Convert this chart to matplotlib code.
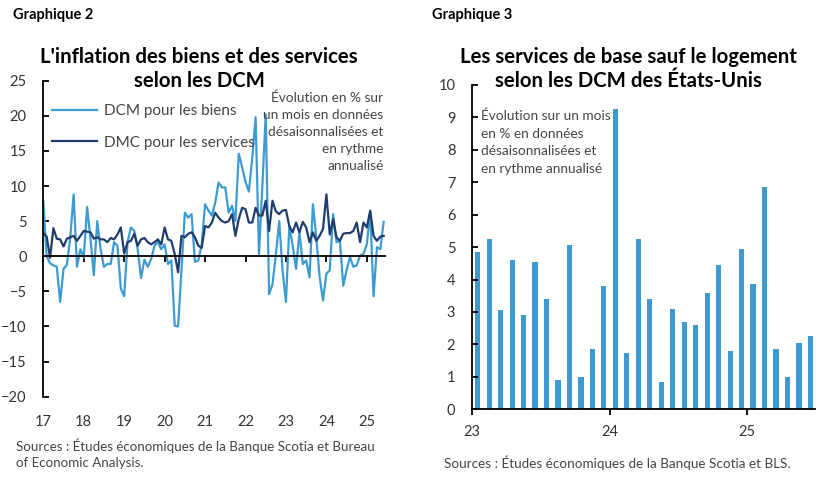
import numpy as np
import matplotlib
matplotlib.use("Agg")
import matplotlib.pyplot as plt

plt.rcParams['font.family'] = ['Lato', 'DejaVu Sans']

# --- Graphique 2 : monthly, Jan 2017 to Jun 2025 (annualized m/m %)
goods = [7.9, 0.0, -1.0, -1.3, -1.5, -6.5, -1.8, -1.2, 2.7, 8.8, -1.5, 1.0,
         -0.2, 7.0, 2.5, -2.7, 5.0, 1.0, -1.5, -1.1, -1.1, 2.0, 1.5, -4.6,
         -5.7, 2.0, 4.1, 3.6, 1.0, -3.1, -0.5, -1.5, -0.4, 1.5, 2.0, 1.0,
         1.7, -1.1, -0.6, -9.9, -10.0, -2.0, 6.2, 5.5, 6.0, -0.8, -0.6, 1.7,
         7.4, 6.5, 5.8, 7.6, 10.5, 9.8, 9.8, 6.2, 7.2, 5.0, 14.6, 12.7,
         10.6, 9.2, 14.0, 19.8, 0.3, 10.0, 20.2, -5.4, -4.0, 0.2, 5.0, -2.0,
         -6.5, 4.3, 1.5, -1.8, 3.4, -1.1, -0.6, -3.0, 7.4, 2.7, -3.0, -6.3,
         -2.5, -2.0, 6.0, 2.0, 2.2, -4.2, -2.0, -0.1, -1.5, -1.3, 0.1, 0.3,
         1.7, 6.3, -5.7, 1.3, 1.0, 4.9]
services = [3.3, 2.8, -0.2, 4.0, 2.5, 2.4, 1.4, 2.5, 2.7, 2.9, 2.2, 2.9,
            3.6, 3.5, 3.4, 2.5, 2.7, 2.4, 2.4, 2.0, 2.6, 2.4, 3.1, 4.1,
            0.4, 2.0, 2.2, 3.2, 1.5, 2.4, 2.6, 2.0, 1.7, 2.0, 2.4, 1.7,
            4.1, 2.4, 2.2, 0.3, -2.3, 2.9, 2.7, 3.2, 3.4, 2.7, 1.5, 1.2,
            4.3, 4.1, 4.8, 6.2, 5.5, 5.0, 4.8, 5.0, 6.0, 2.9, 5.3, 6.9,
            6.7, 4.8, 4.8, 6.9, 5.8, 5.8, 7.9, 3.6, 7.9, 6.4, 6.0, 6.5,
            6.6, 4.3, 3.4, 4.8, 3.4, 4.9, 4.1, 2.0, 3.4, 2.2, 2.9, 3.9,
            8.8, 3.1, 5.3, 2.7, 2.2, 3.2, 3.3, 3.3, 3.6, 4.8, 2.0, 4.8,
            4.1, 6.5, 2.9, 2.2, 2.8, 2.9]
years_left = [2017, 2018, 2019, 2020, 2021, 2022, 2023, 2024, 2025]
year_labels_left = ['17', '18', '19', '20', '21', '22', '23', '24', '25']

# --- Graphique 3 : monthly, Jan 2023 to Jun 2025
core_ex_housing = [4.85, 5.25, 3.05, 4.6, 2.9, 4.55, 3.4, 0.9, 5.05, 1.0, 1.85, 3.8,
                   9.25, 1.75, 5.25, 3.4, 0.85, 3.1, 2.7, 2.6, 3.6, 4.45, 1.8, 4.95,
                   3.85, 6.85, 1.85, 1.0, 2.05, 2.25]
years_right = [2023, 2024, 2025]
year_labels_right = ['23', '24', '25']

light_blue = '#3d9bd2'
navy = '#1f3d6e'
txt = '#333333'

fig = plt.figure(figsize=(8.28, 4.82), dpi=100)

# ---------- left chart
ax1 = fig.add_axes([0.0523, 0.177, 0.4127, 0.6556])
t1 = 2017 + np.arange(len(goods)) / 12.0
ax1.plot(t1, goods, color=light_blue, lw=1.6, label='DCM pour les biens')
ax1.plot(t1, services, color=navy, lw=1.6, label='DMC pour les services')
ax1.set_xlim(2017, 2025.45)
ax1.set_ylim(-20, 25)
ax1.set_yticks(range(-20, 26, 5))
ax1.spines['top'].set_visible(False)
ax1.spines['right'].set_visible(False)
ax1.spines['bottom'].set_position(('data', 0))
ax1.spines['left'].set_linewidth(1.3)
ax1.spines['bottom'].set_linewidth(1.3)
ax1.set_xticks(years_left)
ax1.tick_params(axis='x', direction='out', length=4, width=1.3, labelbottom=False)
ax1.tick_params(axis='y', direction='in', length=4, width=1.3, labelsize=10.5,
                labelcolor=txt, pad=12)
sec1 = ax1.secondary_xaxis('bottom')
sec1.set_xticks(years_left, year_labels_left)
sec1.spines['bottom'].set_visible(False)
sec1.tick_params(length=0, labelsize=10.5, labelcolor=txt, pad=13)

leg = ax1.legend(loc='upper left', bbox_to_anchor=(0.0, 0.955), frameon=False,
                 fontsize=11, handlelength=2.9, labelspacing=1.15, handletextpad=0.45,
                 borderaxespad=0.2)
for t in leg.get_texts():
    t.set_color('#444444')

ax1.text(0.995, 0.967, "Évolution en % sur\nun mois en données\ndésaisonnalisées et\nen rythme\nannualisé",
         transform=ax1.transAxes, ha='right', va='top', fontsize=9.8, color='#444444',
         linespacing=1.5)

fig.text(13 / 828, 1 - 15 / 482, 'Graphique 2', fontsize=10.5, fontweight='bold',
         ha='left', va='center', color='black')
fig.text(199 / 828, 1 - 69 / 482, "L'inflation des biens et des services\nselon les DCM",
         fontsize=14.7, fontweight='bold', ha='center', va='center', linespacing=1.22)
fig.text(16 / 828, 1 - 454 / 482,
         "Sources : Études économiques de la Banque Scotia et Bureau\nof Economic Analysis.",
         fontsize=9.6, ha='left', va='center', color='#444444', linespacing=1.4)

# ---------- right chart
ax2 = fig.add_axes([0.570, 0.1508, 0.414, 0.673])
t2 = 2023 + (np.arange(len(core_ex_housing)) + 0.5) / 12.0
ax2.bar(t2, core_ex_housing, width=0.45 / 12, color=light_blue)
ax2.set_xlim(2023, 2025.49)
ax2.set_ylim(0, 10)
ax2.set_yticks(range(0, 11))
ax2.spines['top'].set_visible(False)
ax2.spines['right'].set_visible(False)
ax2.spines['left'].set_linewidth(1.3)
ax2.spines['bottom'].set_linewidth(1.3)
ax2.set_xticks(years_right, year_labels_right)
ax2.tick_params(axis='x', direction='out', length=4, width=1.3, labelsize=10.5,
                labelcolor=txt, pad=7)
ax2.tick_params(axis='y', direction='in', length=4, width=1.3, labelsize=10.5,
                labelcolor=txt, pad=12)

ax2.text(0.025, 0.923, "Évolution sur un mois\nen % en données\ndésaisonnalisées et\nen rythme annualisé",
         transform=ax2.transAxes, ha='left', va='top', fontsize=9.8, color='#444444',
         linespacing=1.55)

fig.text(432 / 828, 1 - 15 / 482, 'Graphique 3', fontsize=10.5, fontweight='bold',
         ha='left', va='center', color='black')
fig.text(628 / 828, 1 - 69 / 482, "Les services de base sauf le logement\nselon les DCM des États-Unis",
         fontsize=14.7, fontweight='bold', ha='center', va='center', linespacing=1.22)
fig.text(444 / 828, 1 - 463 / 482,
         "Sources : Études économiques de la Banque Scotia et BLS.",
         fontsize=9.7, ha='left', va='center', color='#444444')

fig.savefig('out.png', dpi=100)
